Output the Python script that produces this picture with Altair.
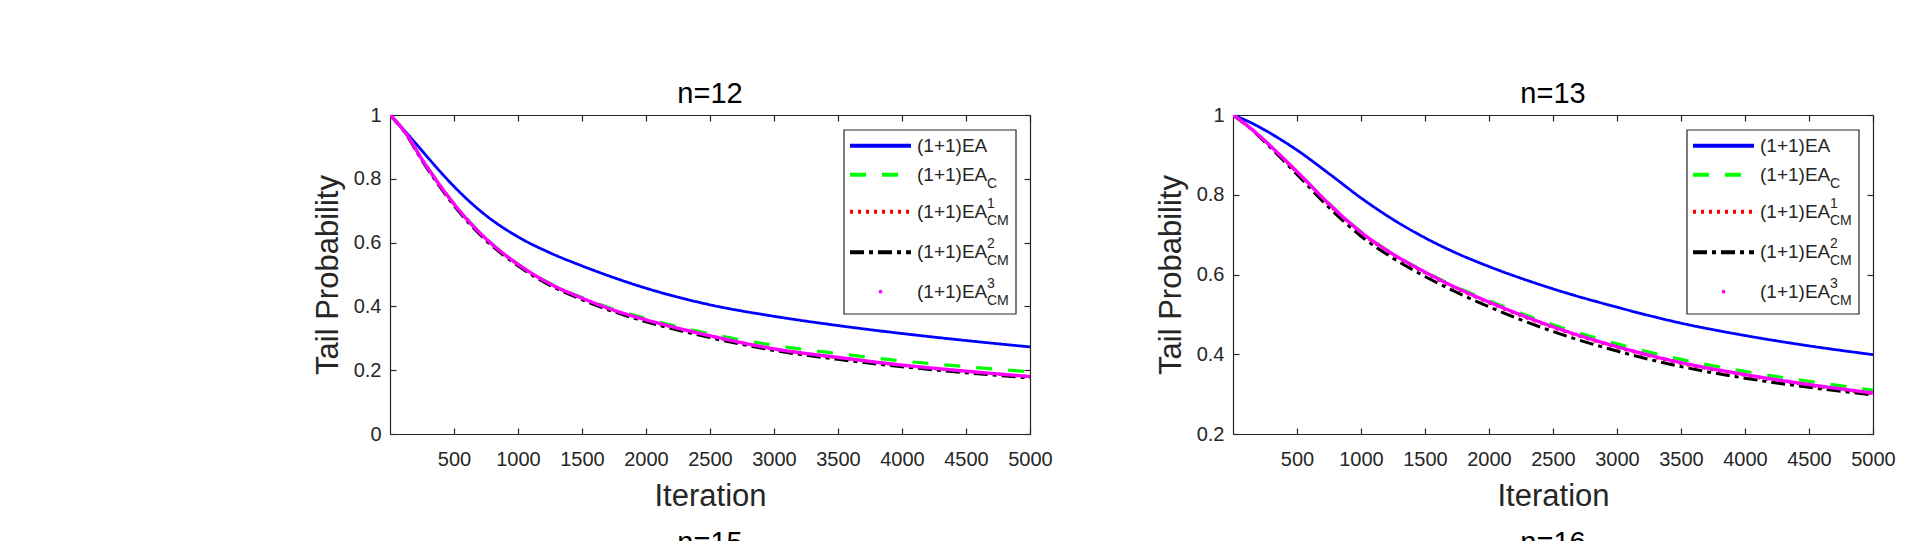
import altair as alt
import pandas as pd

FONT = "Liberation Sans"
TXT = "#262626"

# ---------------- data ----------------
series = ["EA", "EA_C", "EA_CM1", "EA_CM2", "EA_CM3"]
legend_base = ["(1+1)EA", "(1+1)EA", "(1+1)EA", "(1+1)EA", "(1+1)EA"]
legend_sub = ["", "C", "CM", "CM", "CM"]
legend_sup = ["", "", "1", "2", "3"]

iters = [0, 125, 250, 375, 500, 750, 1000, 1250, 1500, 1750, 2000, 2500, 3000, 3500, 4000, 4500, 5000]
x_ticks = [500, 1000, 1500, 2000, 2500, 3000, 3500, 4000, 4500, 5000]

# n = 12
n12_ea = [1.000, 0.946, 0.888, 0.830, 0.776, 0.685, 0.618, 0.568, 0.527, 0.490, 0.457, 0.405, 0.369, 0.340, 0.315, 0.293, 0.273]
n12_eac = [1.000, 0.943, 0.862, 0.789, 0.722, 0.613, 0.533, 0.472, 0.428, 0.391, 0.362, 0.314, 0.278, 0.252, 0.229, 0.211, 0.195]
n12_cm1 = [1.000, 0.942, 0.860, 0.787, 0.720, 0.611, 0.531, 0.470, 0.425, 0.387, 0.357, 0.307, 0.266, 0.239, 0.215, 0.196, 0.180]
n12_cm2 = [1.000, 0.940, 0.857, 0.783, 0.716, 0.607, 0.527, 0.466, 0.421, 0.383, 0.352, 0.302, 0.262, 0.234, 0.211, 0.192, 0.176]
n12_cm3 = [1.000, 0.942, 0.861, 0.788, 0.721, 0.612, 0.532, 0.471, 0.426, 0.388, 0.358, 0.308, 0.267, 0.240, 0.216, 0.197, 0.180]
n12_yticks = [0, 0.2, 0.4, 0.6, 0.8, 1]

# n = 13
n13_ea = [1.000, 0.983, 0.962, 0.938, 0.912, 0.853, 0.792, 0.738, 0.692, 0.653, 0.620, 0.564, 0.518, 0.478, 0.447, 0.421, 0.399]
n13_eac = [1.000, 0.970, 0.935, 0.897, 0.858, 0.778, 0.707, 0.652, 0.607, 0.568, 0.534, 0.474, 0.426, 0.387, 0.357, 0.332, 0.310]
n13_cm1 = [1.000, 0.970, 0.934, 0.895, 0.856, 0.775, 0.704, 0.649, 0.604, 0.564, 0.529, 0.467, 0.417, 0.377, 0.347, 0.322, 0.301]
n13_cm2 = [1.000, 0.969, 0.932, 0.892, 0.851, 0.768, 0.696, 0.641, 0.595, 0.555, 0.519, 0.457, 0.408, 0.369, 0.340, 0.317, 0.298]
n13_cm3 = [1.000, 0.970, 0.935, 0.897, 0.858, 0.777, 0.706, 0.651, 0.606, 0.566, 0.531, 0.469, 0.419, 0.379, 0.349, 0.324, 0.303]
n13_yticks = [0.2, 0.4, 0.6, 0.8, 1]

# titles of the next row of panels, which only just reach into the view
next_titles = ["n=15", "n=16"]

# ---------------- styles ----------------
W, H = 640, 319
colors = ["#0000FF", "#00FF00", "#FF0000", "#000000", "#FF00FF"]
dashes = [[1, 0], [16, 16], [3, 5], [14, 5, 4, 5], [1, 0]]
widths = [2.8, 3.2, 3.0, 3.0, 3.4]
leg_widths = [4, 4, 3.5, 4, 4]

LEG_L, LEG_T, LEG_W, LEG_H = 454, 15, 172, 184
leg_row_y = [15.7, 44.7, 81.7, 122.3, 161.7]
NEXT_TITLE_Y = 437    # baseline of the next row's title, below the plot top

color_scale = alt.Scale(domain=series, range=colors)
dash_scale = alt.Scale(domain=series, range=dashes)
lw_scale = alt.Scale(domain=series, range=leg_widths)

common_axis = dict(labelFont=FONT, labelFontSize=20, labelColor=TXT, titleFont=FONT,
                   titleFontSize=31, titleFontWeight="normal", titleColor=TXT, grid=False,
                   domainColor=TXT, domainWidth=1.2, tickColor=TXT, tickWidth=1.2,
                   labelFlush=False, labelOverlap=False)


def axes_for(layer_idx, yticks):
    if layer_idx == 0:
        ax_x = alt.Axis(values=x_ticks, orient="bottom", title="Iteration", format="d", ticks=False,
                        tickSize=0, labelPadding=15, titlePadding=12, **common_axis)
        ax_y = alt.Axis(values=yticks, orient="left", title="Tail Probability", format="~g", ticks=False,
                        tickSize=0, labelPadding=9, titlePadding=9, **common_axis)
    elif layer_idx == 1:
        ax_x = alt.Axis(values=x_ticks, orient="top", offset=-H, labels=False, title=None, domain=False,
                        ticks=True, tickSize=6, **common_axis)
        ax_y = alt.Axis(values=yticks, orient="right", offset=-W, labels=False, title=None, domain=False,
                        ticks=True, tickSize=6, **common_axis)
    elif layer_idx == 2:
        ax_x = alt.Axis(values=x_ticks, orient="bottom", offset=-H, labels=False, title=None, domain=True,
                        ticks=True, tickSize=6, **common_axis)
        ax_y = alt.Axis(values=yticks, orient="left", offset=-W, labels=False, title=None, domain=True,
                        ticks=True, tickSize=6, **common_axis)
    else:
        ax_x = None
        ax_y = None
    return ax_x, ax_y


def panel(title, cols, ydom, yticks, next_title):
    xs = alt.Scale(domain=[0, 5000], nice=False, zero=False)
    ys = alt.Scale(domain=ydom, nice=False, zero=False)
    layers = []
    for i, s in enumerate(series):
        ax_x, ax_y = axes_for(i, yticks)
        df = pd.DataFrame({"iter": iters, "p": cols[i]})
        mk = alt.Chart(df).mark_line(color=colors[i], strokeDash=dashes[i], strokeWidth=widths[i],
                                     interpolate="monotone", clip=True)
        layers.append(mk.encode(x=alt.X("iter:Q", scale=xs, axis=ax_x),
                                y=alt.Y("p:Q", scale=ys, axis=ax_y)))

    leg = pd.DataFrame({"series": series, "base": legend_base, "sub": legend_sub,
                        "sup": legend_sup, "row": list(range(len(series)))})
    ypix = "[" + ",".join(str(LEG_T + v) for v in leg_row_y) + "][datum.row]"
    yenc = alt.Y("yp:Q", scale=alt.Scale(domain=[0, H], range=[0, H]), axis=None)
    box = alt.Chart(pd.DataFrame({"b": [0]})).mark_rect(fill="white", stroke=TXT, strokeWidth=1.2).encode(
        x=alt.value(LEG_L), x2=alt.value(LEG_L + LEG_W), y=alt.value(LEG_T), y2=alt.value(LEG_T + LEG_H))
    base = alt.Chart(leg).transform_calculate(yp=ypix)
    samples = base.transform_filter("datum.row < 4").mark_rule().encode(
        x=alt.value(LEG_L + 6), x2=alt.value(LEG_L + 67), y=yenc,
        color=alt.Color("series:N", scale=color_scale, legend=None),
        strokeDash=alt.StrokeDash("series:N", scale=dash_scale, legend=None),
        strokeWidth=alt.StrokeWidth("series:N", scale=lw_scale, legend=None))
    dot = base.transform_filter("datum.row == 4").mark_point(filled=True, size=14, opacity=1).encode(
        x=alt.value(LEG_L + 36.5), y=yenc,
        color=alt.Color("series:N", scale=color_scale, legend=None))
    txt = base.mark_text(align="left", baseline="middle", font=FONT, fontSize=19, color=TXT).encode(
        x=alt.value(LEG_L + 73), y=yenc, text="base:N")
    sub = base.mark_text(align="left", baseline="middle", font=FONT, fontSize=14, color=TXT,
                         dx=70, dy=9).encode(x=alt.value(LEG_L + 73), y=yenc, text="sub:N")
    sup = base.mark_text(align="left", baseline="middle", font=FONT, fontSize=14, color=TXT,
                         dx=70, dy=-8).encode(x=alt.value(LEG_L + 73), y=yenc, text="sup:N")
    nxt = alt.Chart(pd.DataFrame({"t": [next_title]})).mark_text(
        align="center", baseline="alphabetic", font=FONT, fontSize=29, color="#000000").encode(
        x=alt.value(W / 2), y=alt.value(NEXT_TITLE_Y), text="t:N")
    layers += [box, samples, dot, txt, sub, sup, nxt]

    ch = alt.layer(*layers).resolve_scale(y="independent").resolve_axis(x="independent", y="independent")
    return ch.properties(
        width=W, height=H,
        title=alt.TitleParams(title, font=FONT, fontSize=29, fontWeight="normal", color="#000000",
                              anchor="middle", frame="group", offset=11, dy=38, baseline="alphabetic"))


p12 = panel("n=12", [n12_ea, n12_eac, n12_cm1, n12_cm2, n12_cm3], [0, 1], n12_yticks, next_titles[0])
p13 = panel("n=13", [n13_ea, n13_eac, n13_cm1, n13_cm2, n13_cm3], [0.2, 1], n13_yticks, next_titles[1])

chart = alt.hconcat(p12, p13, spacing=101).properties(
    padding={"left": 303, "top": 71, "right": 5, "bottom": 5},
    background="white",
).configure_view(stroke="transparent")

chart.save("out.html", embed_options={"renderer": "svg", "actions": False})
